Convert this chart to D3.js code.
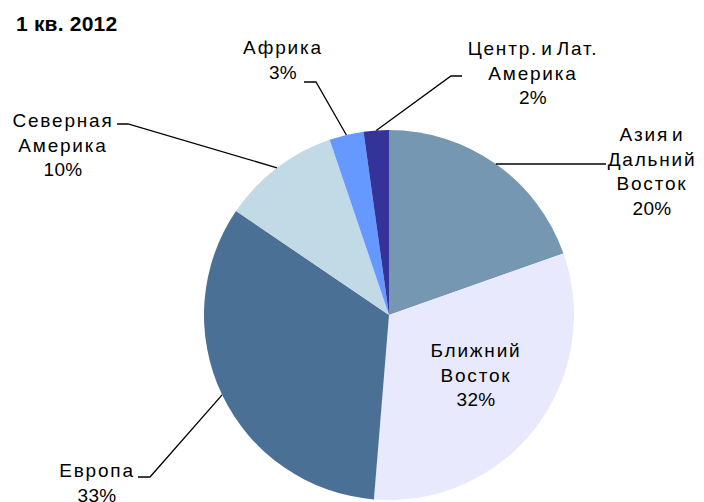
<!DOCTYPE html>
<html>
<head>
<meta charset="utf-8">
<script src="https://cdn.jsdelivr.net/npm/d3@7"></script>
<style>
  body { margin: 0; background: #fff; }
  svg text { font-family: "Liberation Sans", Arial, sans-serif; fill: #000; }
</style>
</head>
<body>
<svg id="chart" width="704" height="502"></svg>
<script>
// data, clockwise from 12 o'clock
const regions = ["Азия и Дальний Восток", "Ближний Восток", "Европа", "Северная Америка", "Африка", "Центр. и Лат. Америка"];
const shares = [19.6, 31.7, 33.2, 10.3, 3.0, 2.2];
const labelLines = [
  ["Азия и", "Дальний", "Восток"],
  ["Ближний", "Восток"],
  ["Европа"],
  ["Северная", "Америка"],
  ["Африка"],
  ["Центр. и Лат.", "Америка"]
];
const colors = ["#7597B1", "#E9E9FD", "#4A7095", "#C2D9E6", "#6699FF", "#333399"];

// label layout: text centre x, first baseline y, leader elbow and end
const layout = [
  { x: 652, y: 141, elbow: null, end: [606, 164] },
  { x: 476, y: 357, inside: true },
  { x: 97, y: 477, elbow: [150, 477], end: [138, 477] },
  { x: 63, y: 127, elbow: [128, 124], end: [117, 124] },
  { x: 283, y: 54, elbow: [316, 82], end: [304, 82] },
  { x: 533, y: 55, elbow: [451, 76], end: [462, 76] }
];

const svg = d3.select("#chart");
const cx = 389, cy = 315, r = 185;
const lineH = 24.5;

svg.append("text")
  .attr("x", 16).attr("y", 31)
  .style("font-weight", "bold").style("font-size", "21px")
  .style("letter-spacing", "0.2px")
  .text("1 кв. 2012");

const pie = d3.pie().sort(null).value(d => d)(shares);
const arc = d3.arc().innerRadius(0).outerRadius(r);

const g = svg.append("g").attr("transform", `translate(${cx},${cy})`);
g.selectAll("path")
  .data(pie)
  .join("path")
  .attr("d", arc)
  .attr("fill", (d, i) => colors[i]);

// leader lines
pie.forEach((d, i) => {
  const L = layout[i];
  if (L.inside) return;
  const a = (d.startAngle + d.endAngle) / 2;
  const start = [cx + r * Math.sin(a), cy - r * Math.cos(a)];
  const pts = [start];
  if (L.elbow) pts.push(L.elbow);
  pts.push(L.end);
  svg.append("path")
    .attr("d", d3.line()(pts))
    .attr("fill", "none")
    .attr("stroke", "#000")
    .attr("stroke-width", 1.3);
});

// labels
pie.forEach((d, i) => {
  const L = layout[i];
  const lines = labelLines[i].concat([Math.round(shares[i]) + "%"]);
  const t = svg.append("text")
    .attr("text-anchor", "middle")
    .style("font-size", "19px");
  lines.forEach((s, k) => {
    const isPct = k === lines.length - 1;
    t.append("tspan")
      .attr("x", L.x)
      .attr("y", L.y + k * lineH)
      .style("letter-spacing", isPct ? "0.3px" : "1.8px")
      .style("word-spacing", "-4px")
      .text(s);
  });
});
</script>
</body>
</html>
